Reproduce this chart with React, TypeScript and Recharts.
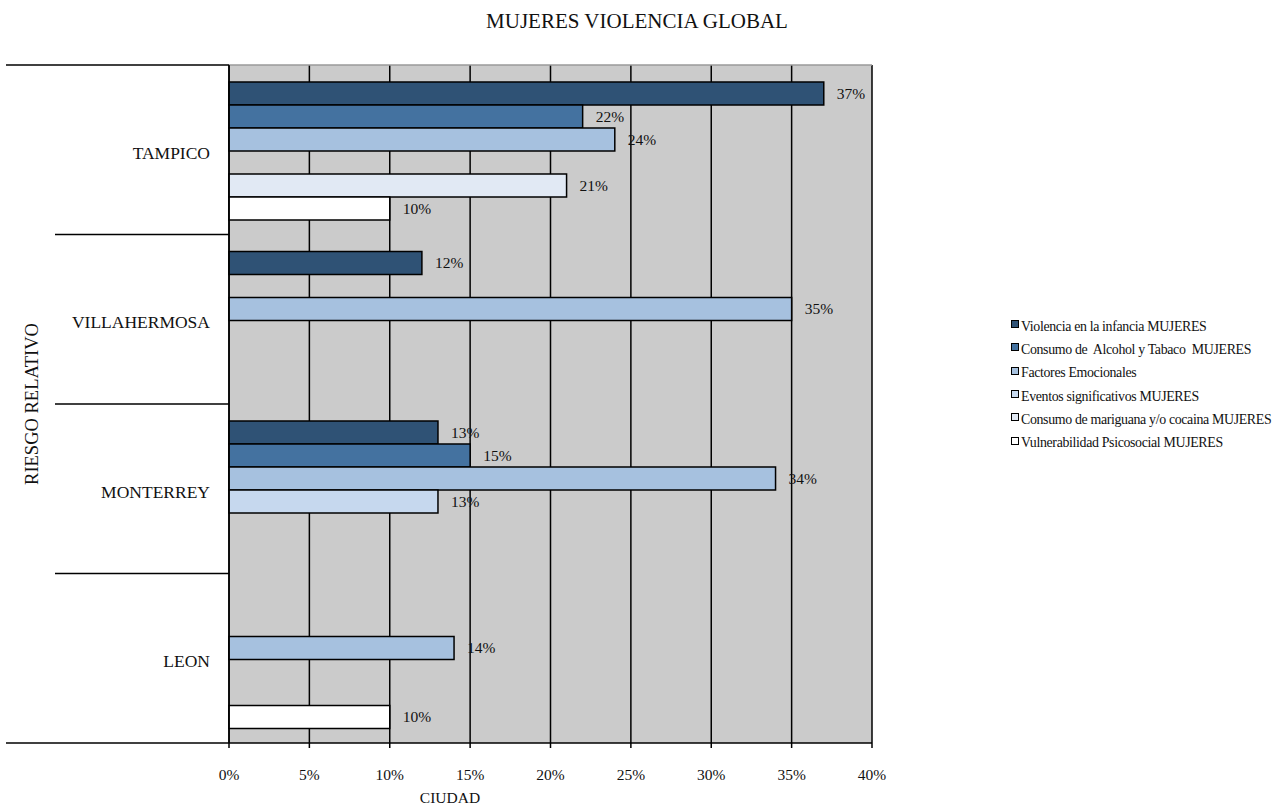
import { BarChart, Bar, XAxis, YAxis, CartesianGrid, Legend, LabelList } from 'recharts'

const cities = ['TAMPICO', 'VILLAHERMOSA', 'MONTERREY', 'LEON']

const violenciaInfancia = [37, 12, 13, null]
const alcoholTabaco = [22, null, 15, null]
const factoresEmocionales = [24, 35, 34, 14]
const eventosSignificativos = [null, null, 13, null]
const mariguanaCocaina = [21, null, null, null]
const vulnerabilidad = [10, null, null, 10]

const xTicks = [0, 5, 10, 15, 20, 25, 30, 35, 40]

const series = [
  { key: 'violencia', name: 'Violencia en la infancia MUJERES', values: violenciaInfancia, fill: '#2f5275' },
  { key: 'alcohol', name: 'Consumo de  Alcohol y Tabaco  MUJERES', values: alcoholTabaco, fill: '#4472a0' },
  { key: 'emocionales', name: 'Factores Emocionales', values: factoresEmocionales, fill: '#a6c1df' },
  { key: 'eventos', name: 'Eventos significativos MUJERES', values: eventosSignificativos, fill: '#c6d8ee' },
  { key: 'mariguana', name: 'Consumo de mariguana y/o cocaina MUJERES', values: mariguanaCocaina, fill: '#e1e9f4' },
  { key: 'vulnerabilidad', name: 'Vulnerabilidad Psicosocial MUJERES', values: vulnerabilidad, fill: '#ffffff' },
]

const data = cities.map((city, i) => {
  const row: Record<string, string | number | null> = { city }
  series.forEach(s => { row[s.key] = s.values[i] })
  return row
})

const FONT = '"Liberation Serif", "DejaVu Serif", serif'
const W = 1274
const H = 810
const TOP = 65
const BOTTOM = 743
const AXIS_X = 229
const BAND = (BOTTOM - TOP) / cities.length

// category label plus the long separator lines between cities
function CityTick({ x, y, payload, index }: any) {
  const half = BAND / 2
  const last = index === cities.length - 1
  return (
    <g>
      <line x1={index === 0 ? 6 : 55} x2={AXIS_X} y1={y - half} y2={y - half} stroke="#000" strokeWidth={1.5} />
      {last && <line x1={6} x2={AXIS_X} y1={y + half} y2={y + half} stroke="#000" strokeWidth={1.5} />}
      <text x={x - 11} y={y + 3} textAnchor="end" dominantBaseline="central" fontFamily={FONT} fontSize={17.5} fill="#111">
        {payload.value}
      </text>
    </g>
  )
}

function ValueLabel({ x, y, width, height, value }: any) {
  if (value == null) return null
  return (
    <text x={x + width + 13} y={y + height / 2} dominantBaseline="central" fontFamily={FONT} fontSize={15.5} fill="#111">
      {value}%
    </text>
  )
}

// keep the legend in series order instead of the default sort
function LegendList({ payload }: any) {
  const order = series.map(s => s.name)
  const items = [...(payload ?? [])].sort((a: any, b: any) => order.indexOf(a.value) - order.indexOf(b.value))
  return (
    <div style={{ fontFamily: FONT, fontSize: 13.9, letterSpacing: -0.35, color: '#111' }}>
      {items.map((p: any) => (
        <div key={p.value} style={{ height: 23.3, display: 'flex', alignItems: 'center', whiteSpace: 'pre' }}>
          <span style={{
            width: 6, height: 6, border: '1.5px solid #000', background: p.color,
            marginRight: 2, marginTop: -5, flexShrink: 0,
          }} />
          {p.value}
        </div>
      ))}
    </div>
  )
}

export default function App() {
  return (
    <div style={{ position: 'fixed', left: 0, top: 0, width: W, height: H, overflow: 'hidden', background: '#fff', fontFamily: FONT }}>
      <div style={{ position: 'absolute', top: 9, left: 0, width: W, textAlign: 'center', fontSize: 21, color: '#111' }}>
        MUJERES VIOLENCIA GLOBAL
      </div>
      <div style={{
        position: 'absolute', left: 32, top: 404, fontSize: 18.5, color: '#111', whiteSpace: 'nowrap',
        transform: 'translate(-50%, -50%) rotate(-90deg)',
      }}>
        RIESGO RELATIVO
      </div>
      <div style={{ position: 'absolute', left: 450, top: 789, transform: 'translateX(-50%)', fontSize: 15.5, color: '#111' }}>
        CIUDAD
      </div>
      <BarChart
        width={W}
        height={H}
        data={data}
        layout="vertical"
        margin={{ top: TOP, right: W - 872, bottom: 0, left: 8 }}
        barCategoryGap="10%"
        barGap={0}
        style={{ position: 'absolute', left: 0, top: 0 }}
      >
        <CartesianGrid horizontal={false} stroke="#000" strokeWidth={1.5} fill="#cbcbcb" fillOpacity={1} />
        <CartesianGrid vertical={false} horizontalPoints={[TOP]} stroke="#9a9a9a" strokeWidth={1.5} />
        <XAxis
          type="number"
          domain={[0, 40]}
          ticks={xTicks}
          tickFormatter={v => `${v}%`}
          height={H - BOTTOM}
          tickSize={5}
          tickMargin={21}
          axisLine={{ stroke: '#000', strokeWidth: 1.5 }}
          tickLine={{ stroke: '#000', strokeWidth: 1.5 }}
          tick={{ fill: '#111', fontSize: 15.5, fontFamily: FONT }}
          interval={0}
        />
        <YAxis
          type="category"
          dataKey="city"
          width={AXIS_X - 8}
          axisLine={{ stroke: '#000', strokeWidth: 1.5 }}
          tickLine={false}
          tick={<CityTick />}
          interval={0}
        />
        <Legend
          layout="vertical"
          align="center"
          verticalAlign="middle"
          content={<LegendList />}
          wrapperStyle={{ left: 1011, top: 315, width: 263 }}
        />
        {series.map(s => (
          <Bar key={s.key} dataKey={s.key} name={s.name} fill={s.fill} stroke="#000" strokeWidth={1.5} isAnimationActive={false}>
            <LabelList dataKey={s.key} content={<ValueLabel />} />
          </Bar>
        ))}
      </BarChart>
    </div>
  )
}
